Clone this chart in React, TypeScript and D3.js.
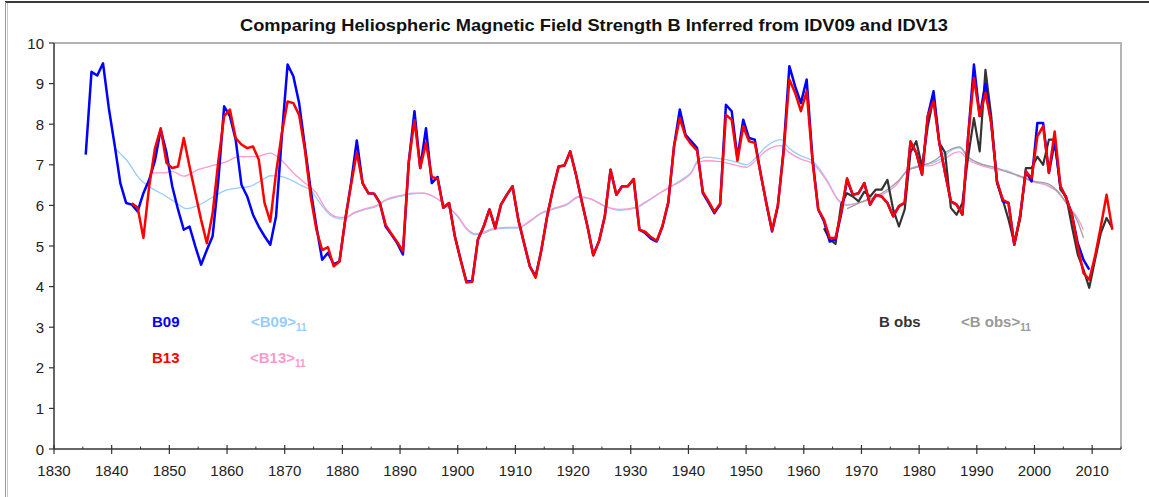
import React from "react";
import * as d3 from "d3";

// Annual heliospheric field strength B (nT), one value per year from the start year.
const b09Start = 1835;
const b09Values = [
  7.25, 9.29, 9.2, 9.5, 8.4, 7.5, 6.55, 6.06, 6.02, 5.85,
  6.3, 6.63, 7.1, 7.87, 7.3, 6.47, 5.9, 5.4, 5.48, 4.99,
  4.54, 4.9, 5.24, 6.63, 8.44, 8.2, 7.62, 6.51, 6.22, 5.77,
  5.48, 5.24, 5.03, 5.73, 7.7, 9.47, 9.18, 8.52, 7.45, 6.39,
  5.48, 4.66, 4.83, 4.55, 4.62, 5.65, 6.55, 7.6, 6.55, 6.3,
  6.29, 6.06, 5.48, 5.28, 5.07, 4.79, 7.05, 8.32, 6.92, 7.9,
  6.55, 6.7, 5.94, 6.06, 5.24, 4.66, 4.13, 4.13, 5.16, 5.48,
  5.9, 5.44, 6.02, 6.26, 6.47, 5.65, 5.07, 4.5, 4.25, 4.9,
  5.73, 6.39, 6.96, 6.98, 7.33, 6.76, 6.1, 5.48, 4.77, 5.12,
  5.73, 6.88, 6.26, 6.47, 6.47, 6.65, 5.4, 5.32, 5.18, 5.11,
  5.48, 6.06, 7.45, 8.36, 7.74, 7.58, 7.41, 6.3, 6.06, 5.81,
  6.02, 8.48, 8.32, 7.17, 8.11, 7.66, 7.62, 6.8, 6.06, 5.36,
  5.98, 7.37, 9.43, 8.93, 8.52, 9.1, 7.17, 5.9, 5.61, 5.11,
  5.16, 5.8, 6.63, 6.26, 6.3, 6.55, 6.02, 6.26, 6.22, 6.06,
  5.73, 5.98, 6.06, 7.55, 7.3, 6.76, 8.2, 8.81, 7.54, 6.8,
  6.1, 6.02, 5.77, 7.7, 9.47, 8.2, 9.0, 8.03, 6.59, 6.1,
  6.06, 5.03, 5.73, 6.84, 6.59, 8.03, 8.03, 6.8, 7.58, 6.47,
  6.18, 5.77, 5.07, 4.66, 4.42,
];

const b13Start = 1843;
const b13Values = [
  6.05, 5.95, 5.2, 6.47, 7.4, 7.9, 7.05,
  6.92, 6.96, 7.66, 6.96, 6.3, 5.65, 5.07, 5.8, 7.1, 8.2,
  8.36, 7.66, 7.5, 7.41, 7.45, 7.13, 6.06, 5.6, 6.8, 7.78,
  8.56, 8.52, 8.23, 7.37, 6.22, 5.4, 4.9, 4.97, 4.5, 4.62,
  5.65, 6.5, 7.3, 6.55, 6.3, 6.29, 6.06, 5.52, 5.3, 5.1,
  4.87, 7.05, 8.1, 6.92, 7.54, 6.7, 6.66, 5.94, 6.06, 5.24,
  4.66, 4.1, 4.12, 5.16, 5.48, 5.9, 5.44, 6.02, 6.26, 6.47,
  5.65, 5.07, 4.5, 4.22, 4.9, 5.73, 6.39, 6.96, 6.98, 7.33,
  6.76, 6.1, 5.48, 4.77, 5.12, 5.73, 6.88, 6.26, 6.47, 6.47,
  6.65, 5.4, 5.35, 5.22, 5.13, 5.5, 6.08, 7.45, 8.15, 7.7,
  7.5, 7.35, 6.33, 6.1, 5.84, 6.05, 8.23, 8.11, 7.1, 7.95,
  7.58, 7.54, 6.8, 6.06, 5.38, 6.0, 7.3, 9.1, 8.77, 8.32,
  8.81, 7.1, 5.9, 5.65, 5.2, 5.2, 5.85, 6.67, 6.26, 6.3,
  6.55, 6.02, 6.26, 6.22, 6.06, 5.73, 5.98, 6.06, 7.58, 7.3,
  6.76, 8.2, 8.56, 7.54, 6.8, 6.1, 6.02, 5.77, 7.7, 9.14,
  8.2, 8.77, 8.03, 6.59, 6.14, 6.06, 5.03, 5.73, 6.84, 6.67,
  7.7, 7.95, 6.8, 7.82, 6.47, 6.18, 5.77, 4.99, 4.33, 4.17,
  4.75, 5.48, 6.26, 5.4,
];

const bObsStart = 1963;
const bObsValues = [
  5.44, 5.16, 5.05, 6.04, 6.3, 6.22, 6.1,
  6.34, 6.22, 6.39, 6.39, 6.63, 5.9, 5.48, 5.9, 7.3, 7.58,
  6.96, 7.95, 8.65, 7.54, 7.3, 5.94, 5.77, 6.06, 7.2, 8.15,
  7.33, 9.34, 8.2, 6.55, 6.14, 5.65, 5.07, 5.65, 6.92, 6.92,
  7.2, 7.0, 7.62, 7.62, 6.39, 6.22, 5.48, 4.79, 4.42, 3.97,
  4.66, 5.32, 5.69, 5.44,
];

// 11-year running means <B>11
const b09AvgYears = [
  1840.5, 1842.5, 1845, 1847, 1849.5, 1851, 1853, 1855, 1857.5, 1860, 1862, 1864,
  1866, 1867.5, 1869, 1871.5, 1873, 1874.5, 1876, 1878, 1880, 1882, 1884, 1886,
  1887.5, 1890, 1892, 1894, 1896, 1898, 1900, 1901.5, 1903, 1904.5, 1906, 1908.5,
  1910.5, 1912.5, 1914.5, 1916.5, 1919, 1921, 1923, 1925.5, 1928, 1931, 1932.5, 1935,
  1937, 1939, 1940.5, 1941.5, 1943, 1945.5, 1948, 1950, 1951.5, 1953.5, 1956, 1957.5,
  1959.5, 1961.5, 1964, 1966, 1967.5, 1970, 1972, 1974, 1976, 1978, 1980, 1982.5,
  1984, 1986, 1987, 1988.5, 1990.5, 1993, 1995, 1997.5, 2000, 2002, 2004.5,
];
const b09AvgValues = [
  7.41, 7.13, 6.63, 6.42, 6.22, 6.08, 5.92, 6.0, 6.2, 6.38, 6.43, 6.47,
  6.62, 6.73, 6.72, 6.6, 6.48, 6.38, 6.08, 5.75, 5.66, 5.8, 5.9, 5.98,
  6.12, 6.22, 6.28, 6.3, 6.2, 5.98, 5.72, 5.42, 5.28, 5.31, 5.4, 5.44,
  5.44, 5.6, 5.8, 5.9, 6.02, 6.2, 6.16, 5.99, 5.88, 5.94, 6.06, 6.3,
  6.47, 6.65, 6.82, 7.08, 7.19, 7.15, 7.08, 7.0, 7.15, 7.45, 7.62, 7.4,
  7.22, 7.1, 6.63, 6.14, 6.02, 6.08, 6.18, 6.3, 6.5, 6.88, 6.98, 7.05,
  7.17, 7.39, 7.42, 7.17, 7.04, 6.93, 6.86, 6.72, 6.59, 6.51, 6.3,
];

const b13AvgYears = [
  1846.5, 1849, 1850.5, 1852.5, 1855, 1857, 1860, 1862, 1865, 1867.5, 1869, 1871.5,
  1873.5, 1875.5, 1877, 1879, 1880.5, 1882, 1884, 1886, 1887.5, 1890, 1892, 1894,
  1896, 1898, 1900, 1901.5, 1903, 1904.5, 1906, 1908.5, 1910.5, 1912.5, 1914.5, 1916.5,
  1919, 1921, 1923, 1925.5, 1928, 1931, 1932.5, 1935, 1937, 1939, 1940.5, 1941.5,
  1943, 1945.5, 1948, 1950, 1951.5, 1953.5, 1956, 1957.5, 1959.5, 1961.5, 1964, 1966,
  1967.5, 1970, 1972, 1974, 1976, 1978, 1980, 1982.5, 1984, 1986, 1987, 1988.5,
  1990.5, 1993, 1995, 1997.5, 2000, 2002, 2004, 2005.5, 2007.5, 2008.5,
];
const b13AvgValues = [
  6.8, 6.8, 6.84, 6.72, 6.88, 6.96, 7.08, 7.2, 7.2, 7.29, 7.17, 6.8,
  6.55, 6.3, 5.94, 5.72, 5.7, 5.82, 5.92, 6.0, 6.14, 6.24, 6.3, 6.3,
  6.2, 6.0, 5.74, 5.44, 5.3, 5.34, 5.42, 5.46, 5.46, 5.62, 5.82, 5.92,
  6.04, 6.22, 6.16, 5.98, 5.9, 5.96, 6.08, 6.3, 6.47, 6.62, 6.8, 7.04,
  7.1, 7.08, 7.0, 6.94, 7.08, 7.35, 7.47, 7.3, 7.14, 7.04, 6.6, 6.12,
  6.0, 6.08, 6.18, 6.3, 6.5, 6.86, 6.95, 7.0, 7.1, 7.29, 7.32, 7.12,
  7.0, 6.9, 6.84, 6.7, 6.57, 6.5, 6.33, 6.06, 5.68, 5.4,
];

const bObsAvgYears = [
  1967.5, 1969, 1971, 1972.5, 1974.5, 1976.5, 1978, 1980, 1982.5, 1984, 1986, 1987,
  1988.5, 1990.5, 1993, 1995, 1997.5, 2000, 2002, 2004, 2005.5, 2007.5, 2008.5,
];
const bObsAvgValues = [
  5.92, 6.02, 6.14, 6.22, 6.39, 6.62, 6.86, 6.96, 7.09, 7.25, 7.41, 7.44,
  7.2, 7.03, 6.94, 6.84, 6.72, 6.59, 6.55, 6.35, 6.06, 5.6, 5.2,
];

const xTickLabels = [1830, 1840, 1850, 1860, 1870, 1880, 1890, 1900, 1910, 1920, 1930, 1940, 1950, 1960, 1970, 1980, 1990, 2000, 2010];
const xMinorTicks = [1835, 1845, 1855, 1865, 1875, 1885, 1895, 1905, 1915, 1925, 1935, 1945, 1955, 1965, 1975, 1985, 1995, 2005, 2015];
const yTickLabels = [0, 1, 2, 3, 4, 5, 6, 7, 8, 9, 10];

const W = 1149;
const H = 497;
const plot = { left: 54, right: 1121, top: 43, bottom: 449 };
const FONT = "'Liberation Sans', Arial, sans-serif";

type Pt = [number, number];

const annual = (start: number, vals: number[]): Pt[] =>
  vals.map((v, i) => [start + i + 0.5, v]);
const paired = (years: number[], vals: number[]): Pt[] =>
  years.map((yr, i) => [yr, vals[i]]);

export default function App() {
  const x = d3.scaleLinear().domain([1830, 2015]).range([plot.left, plot.right]);
  const y = d3.scaleLinear().domain([0, 10]).range([plot.bottom, plot.top]);

  const raw = d3
    .line<Pt>()
    .x((d) => x(d[0]))
    .y((d) => y(d[1]));
  const smooth = d3
    .line<Pt>()
    .x((d) => x(d[0]))
    .y((d) => y(d[1]))
    .curve(d3.curveMonotoneX);

  const legend = (
    lx: number,
    ly: number,
    main: string,
    color: string,
    sub?: string
  ) => (
    <text x={lx} y={ly} fill={color} fontFamily={FONT} fontWeight="bold" fontSize={15}>
      {main}
      {sub && (
        <tspan fontSize={10} dy={4}>
          {sub}
        </tspan>
      )}
    </text>
  );

  return (
    <svg
      width={W}
      height={H}
      style={{ position: "absolute", left: 0, top: 0, background: "#fff" }}
    >
      {/* chart frame */}
      <line x1={5} x2={W} y1={2} y2={2} stroke="#3a3a3a" strokeWidth={2} />
      <line x1={5.5} x2={5.5} y1={2} y2={H} stroke="#9a9a9a" strokeWidth={1} />
      <line x1={7.5} x2={7.5} y1={3} y2={H} stroke="#c8c8c8" strokeWidth={1} />

      <text
        x={594}
        y={31}
        textAnchor="middle"
        fontFamily={FONT}
        fontWeight="bold"
        fontSize={17}
        textLength={708}
        lengthAdjust="spacingAndGlyphs"
        fill="#111"
      >
        Comparing Heliospheric Magnetic Field Strength B Inferred from IDV09 and IDV13
      </text>

      {/* plot area border */}
      <polyline
        points={`${plot.left},${plot.top} ${plot.right},${plot.top} ${plot.right},${plot.bottom}`}
        fill="none"
        stroke="#b4b4b4"
        strokeWidth={2}
      />

      {/* smoothed series */}
      <path d={smooth(paired(b09AvgYears, b09AvgValues)) || ""} fill="none" stroke="#99ccff" strokeWidth={1.3} />
      <path d={smooth(paired(b13AvgYears, b13AvgValues)) || ""} fill="none" stroke="#ff99cc" strokeWidth={1.3} />
      <path d={smooth(paired(bObsAvgYears, bObsAvgValues)) || ""} fill="none" stroke="#a0a0a0" strokeWidth={1.3} />

      {/* annual series */}
      <path d={raw(annual(bObsStart, bObsValues)) || ""} fill="none" stroke="#333333" strokeWidth={2.2} strokeLinejoin="round" />
      <path d={raw(annual(b09Start, b09Values)) || ""} fill="none" stroke="#0000ff" strokeWidth={2.5} strokeLinejoin="round" />
      <path d={raw(annual(b13Start, b13Values)) || ""} fill="none" stroke="#ff0000" strokeWidth={2.5} strokeLinejoin="round" />

      {/* y axis */}
      <line x1={plot.left} x2={plot.left} y1={plot.top} y2={plot.bottom} stroke="#333" strokeWidth={1.5} />
      {yTickLabels.map((t) => (
        <g key={`y${t}`}>
          <line x1={plot.left - 5} x2={plot.left} y1={y(t)} y2={y(t)} stroke="#333" strokeWidth={1.2} />
          <text
            x={44}
            y={y(t) + 5.5}
            textAnchor="end"
            fontFamily={FONT}
            fontSize={15}
            fill="#222"
          >
            {t}
          </text>
        </g>
      ))}

      {/* x axis */}
      <line x1={plot.left} x2={plot.right} y1={plot.bottom} y2={plot.bottom} stroke="#333" strokeWidth={1.5} />
      {xMinorTicks.map((t) => (
        <line key={`m${t}`} x1={x(t)} x2={x(t)} y1={plot.bottom - 2.5} y2={plot.bottom} stroke="#333" strokeWidth={1} />
      ))}
      {xTickLabels.map((t) => (
        <g key={`x${t}`}>
          <line x1={x(t)} x2={x(t)} y1={plot.bottom - 4} y2={plot.bottom + 5} stroke="#333" strokeWidth={1.2} />
          <text x={x(t)} y={476} textAnchor="middle" fontFamily={FONT} fontSize={15} fill="#222">
            {t}
          </text>
        </g>
      ))}

      {/* legend labels */}
      {legend(152, 327, "B09", "#0000ff")}
      {legend(251, 327, "<B09>", "#99ccff", "11")}
      {legend(152, 363, "B13", "#ff0000")}
      {legend(250, 363, "<B13>", "#ff99cc", "11")}
      {legend(879, 327, "B obs", "#333333")}
      {legend(961, 327, "<B obs>", "#999999", "11")}
    </svg>
  );
}
